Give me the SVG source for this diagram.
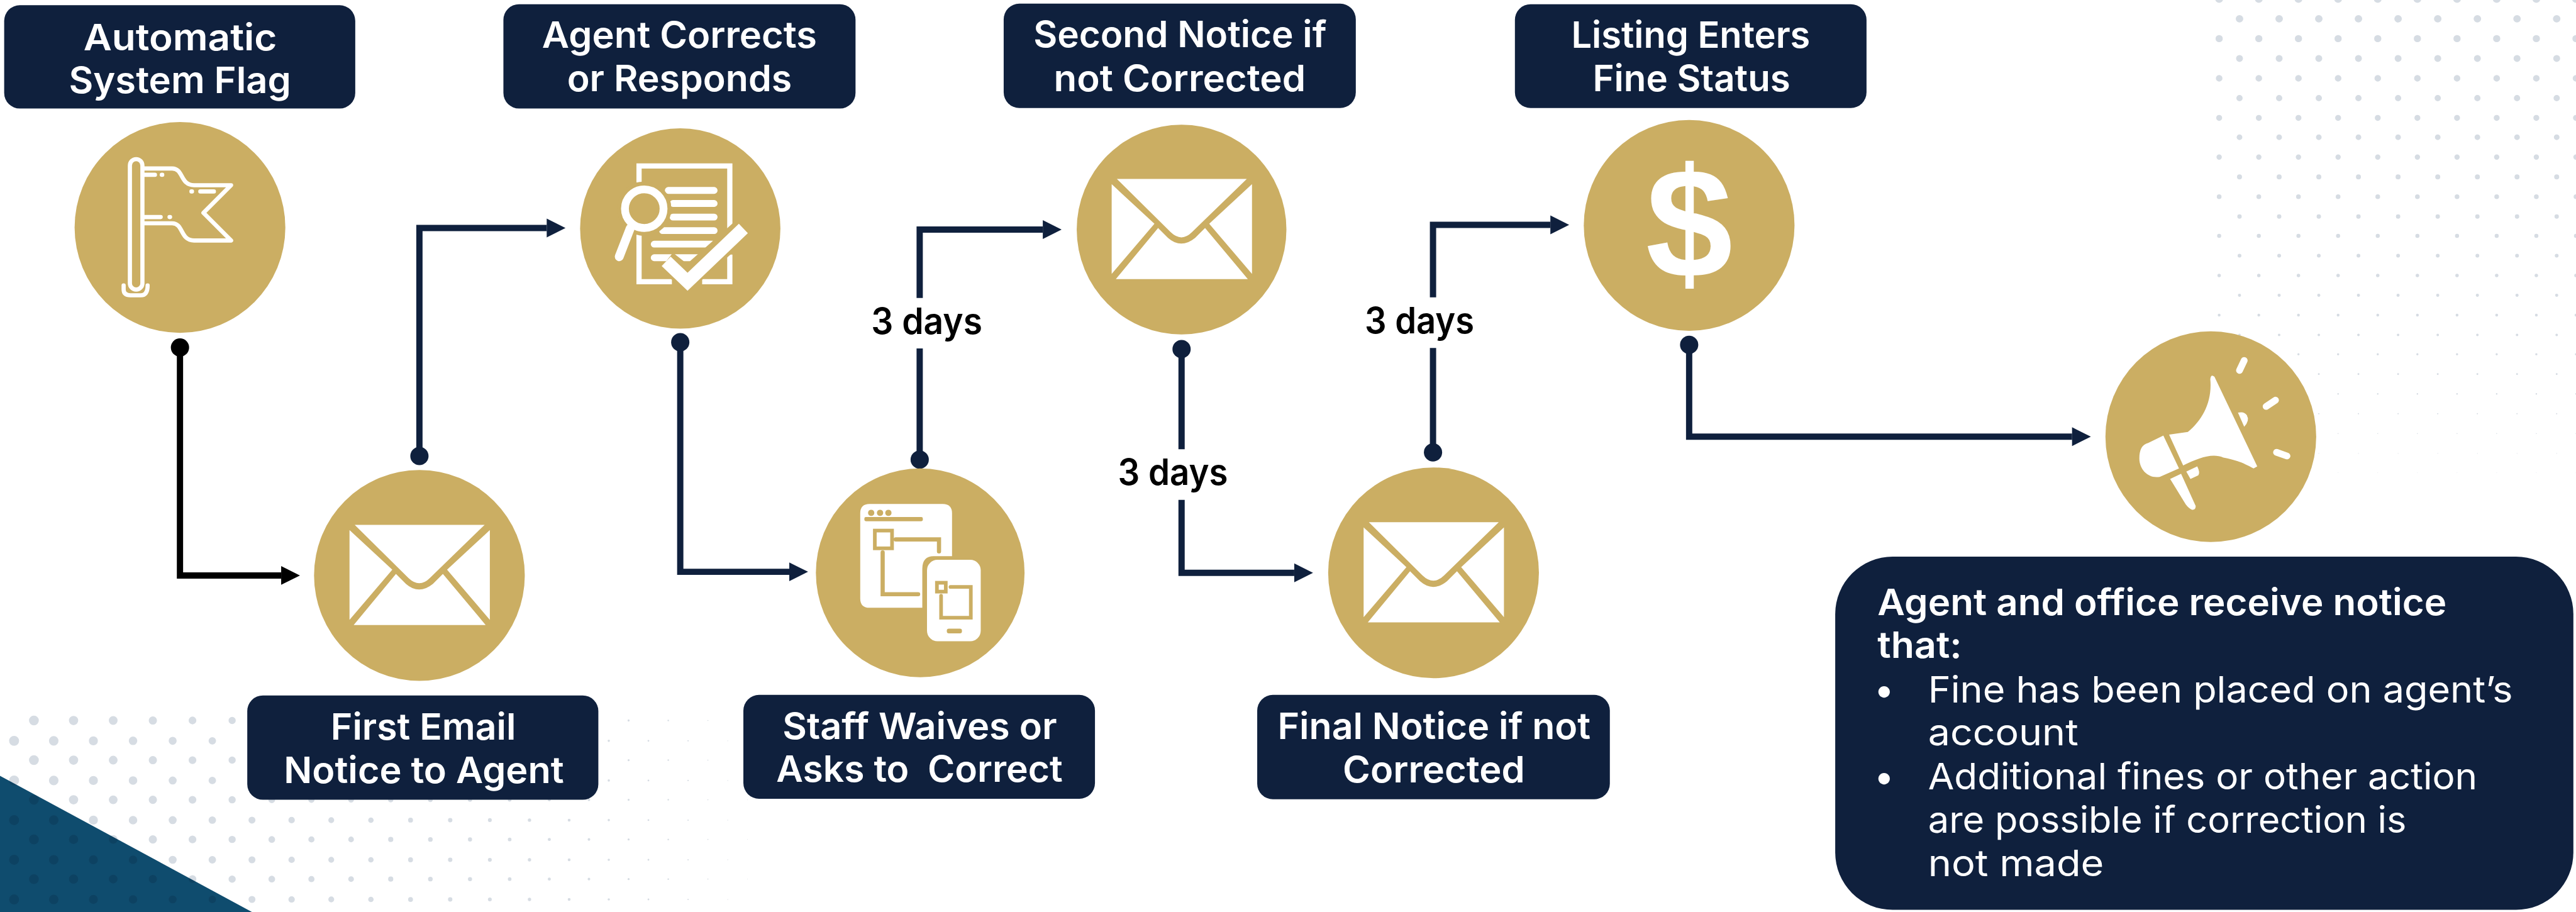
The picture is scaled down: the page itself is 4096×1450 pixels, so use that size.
<svg xmlns="http://www.w3.org/2000/svg" width="4096" height="1450" viewBox="0 0 4096 1450">
<style>
.bg{fill:#fff}
.d{fill:none;stroke:#D6DCE3;stroke-linecap:round;stroke-dasharray:0 76}
.g{fill:#CBAE63}
.box{fill:#0F203D}
.w{fill:#fff}
.gs{fill:none;stroke:#CBAE63}
.ws{fill:none;stroke:#fff}
text{font-family:"Inter","Noto Sans",sans-serif}
.t{fill:#fff;font-size:70px;font-weight:600}
.p{fill:#fff;font-size:70px;font-weight:400}
.l{fill:#000;font-size:70px;font-weight:600}
.c{fill:none;stroke:#0F203D;stroke-width:12;stroke-linejoin:miter}
.k{stroke:#000}
</style>
<defs>
<marker id="a" markerUnits="userSpaceOnUse" markerWidth="38" markerHeight="38" viewBox="0 0 38 38" refX="1" refY="19" orient="auto"><path d="M1 1 L37 19 L1 37 Z" fill="#0F203D" /></marker>
<marker id="ak" markerUnits="userSpaceOnUse" markerWidth="38" markerHeight="38" viewBox="0 0 38 38" refX="1" refY="19" orient="auto"><path d="M1 1 L37 19 L1 37 Z" fill="#000" /></marker>
<marker id="o" markerUnits="userSpaceOnUse" markerWidth="36" markerHeight="36" viewBox="0 0 36 36" refX="18" refY="18"><circle cx="18" cy="18" r="17.5" fill="#0F203D" /></marker>
<marker id="ok" markerUnits="userSpaceOnUse" markerWidth="36" markerHeight="36" viewBox="0 0 36 36" refX="18" refY="18"><circle cx="18" cy="18" r="17.5" fill="#000" /></marker>
<g id="env">
<path class="w" d="M-124 -97H125L20 5Q0 25-21 5Z" />
<path class="w" d="M-134 -87V85L-52 -11Z" />
<path class="w" d="M135 -87V85L53 -11Z" />
<path class="w" d="M-126 95H127L45 -3L26 16Q-1 38-26 16L-45 -3Z" />
</g>
</defs>
<rect class="bg" width="4096" height="1450" />
<g transform="scale(0.82948)">
<g id="dots-bottom-left">
<path class="d" stroke-width="18.8" d="M65 1381V1748" />
<path class="d" stroke-width="17.8" d="M141 1381V1748" />
<path class="d" stroke-width="16.8" d="M217 1381V1748" />
<path class="d" stroke-width="15.8" d="M293 1381V1748" />
<path class="d" stroke-width="14.8" d="M369 1381V1748" />
<path class="d" stroke-width="13.8" d="M445 1381V1748" />
<path class="d" stroke-width="12.8" d="M521 1381V1748" />
<path class="d" stroke-width="11.8" d="M597 1381V1748" />
<path class="d" stroke-width="10.9" d="M673 1381V1748" />
<path class="d" stroke-width="9.9" d="M749 1381V1748" />
<path class="d" stroke-width="8.9" d="M825 1381V1748" />
<path class="d" stroke-width="7.9" d="M901 1381V1748" />
<path class="d" stroke-width="6.9" d="M977 1381V1748" />
<path class="d" stroke-width="5.9" d="M1053 1381V1748" />
<path class="d" stroke-width="5" d="M1129 1381V1748" />
<path class="d" stroke-width="4" d="M1205 1381V1748" />
<path class="d" stroke-width="3" d="M1281 1381V1748" />
<path class="d" stroke-width="2" d="M1357 1381V1748" />
<path class="d" stroke-width="1" d="M1433 1381V1748" />
<path class="d" stroke-width="19.2" d="M27 1420V1748" />
<path class="d" stroke-width="18.3" d="M103 1420V1748" />
<path class="d" stroke-width="17.3" d="M179 1420V1748" />
<path class="d" stroke-width="16.3" d="M255 1420V1748" />
<path class="d" stroke-width="15.3" d="M331 1420V1748" />
<path class="d" stroke-width="14.3" d="M407 1420V1748" />
<path class="d" stroke-width="13.3" d="M483 1420V1748" />
<path class="d" stroke-width="12.3" d="M559 1420V1748" />
<path class="d" stroke-width="11.3" d="M635 1420V1748" />
<path class="d" stroke-width="10.4" d="M711 1420V1748" />
<path class="d" stroke-width="9.4" d="M787 1420V1748" />
<path class="d" stroke-width="8.4" d="M863 1420V1748" />
<path class="d" stroke-width="7.4" d="M939 1420V1748" />
<path class="d" stroke-width="6.4" d="M1015 1420V1748" />
<path class="d" stroke-width="5.4" d="M1091 1420V1748" />
<path class="d" stroke-width="4.4" d="M1167 1420V1748" />
<path class="d" stroke-width="3.4" d="M1243 1420V1748" />
<path class="d" stroke-width="2.5" d="M1319 1420V1748" />
<path class="d" stroke-width="1.5" d="M1395 1420V1748" />
</g>
<path id="corner-triangle" d="M0 1487L483 1748H0Z" fill="#0F4C6E" style="mix-blend-mode:multiply" />
<g id="dots-top-right">
<path class="d" stroke-width="15" d="M4254 -2H4950" />
<path class="d" stroke-width="14.4" d="M4293 36H4950" />
<path class="d" stroke-width="13.8" d="M4254 74H4950" />
<path class="d" stroke-width="13.2" d="M4293 112H4950" />
<path class="d" stroke-width="12.6" d="M4254 150H4950" />
<path class="d" stroke-width="12" d="M4293 188H4950" />
<path class="d" stroke-width="11.4" d="M4254 226H4950" />
<path class="d" stroke-width="10.8" d="M4293 263H4950" />
<path class="d" stroke-width="10.2" d="M4254 301H4950" />
<path class="d" stroke-width="9.6" d="M4293 339H4950" />
<path class="d" stroke-width="9" d="M4254 377H4950" />
<path class="d" stroke-width="8.4" d="M4293 415H4950" />
<path class="d" stroke-width="7.8" d="M4254 452H4950" />
<path class="d" stroke-width="7.2" d="M4293 490H4950" />
<path class="d" stroke-width="6.6" d="M4254 528H4950" />
<path class="d" stroke-width="6" d="M4293 566H4950" />
<path class="d" stroke-width="5.4" d="M4254 604H4950" />
<path class="d" stroke-width="4.8" d="M4293 642H4950" />
<path class="d" stroke-width="4.2" d="M4254 679H4950" />
<path class="d" stroke-width="3.6" d="M4293 717H4950" />
<path class="d" stroke-width="3" d="M4254 755H4950" />
<path class="d" stroke-width="2.4" d="M4293 793H4950" />
<path class="d" stroke-width="1.8" d="M4254 831H4950" />
<path class="d" stroke-width="1.4" d="M4293 869H4950" />
<path class="d" stroke-width="0.8" d="M4254 906H4950" />
</g>
<g id="connectors">
<path class="c k" d="M345 666V1103H539" marker-start="url(#ok)" marker-end="url(#ak)" />
<path class="c" d="M804 874V437H1048" marker-start="url(#o)" marker-end="url(#a)" />
<path class="c" d="M1304 656V1096H1513" marker-start="url(#o)" marker-end="url(#a)" />
<path class="c" d="M1763 881V668" marker-start="url(#o)" />
<path class="c" d="M1763 571V440H1999" marker-end="url(#a)" />
<path class="c" d="M2265 669V861" marker-start="url(#o)" />
<path class="c" d="M2265 958V1098H2481" marker-end="url(#a)" />
<path class="c" d="M2747 867V667" marker-start="url(#o)" />
<path class="c" d="M2747 570V431H2972" marker-end="url(#a)" />
<path class="c" d="M3238 661V837H3972" marker-start="url(#o)" marker-end="url(#a)" />
</g>
<g id="connector-labels">
<text class="l" x="1670" y="640" textLength="213" lengthAdjust="spacingAndGlyphs">3 days</text>
<text class="l" x="2143" y="929" textLength="211" lengthAdjust="spacingAndGlyphs">3 days</text>
<text class="l" x="2616" y="639" textLength="210" lengthAdjust="spacingAndGlyphs">3 days</text>
</g>
<g id="node-flag">
<circle class="g" cx="345" cy="436" r="202" />
<rect class="ws" stroke-width="8" x="249" y="305" width="24" height="250" rx="12" />
<path class="ws" stroke-width="8" stroke-linecap="round" d="M237 547V555Q237 566 250 566H270Q283 566 283 547" />
<path class="ws" stroke-width="8" stroke-linejoin="round" d="M276 323H330C352 323 345 355 372 355H443L390 408L443 461H372C345 461 352 428 330 428H276" />
<path class="ws" stroke-width="8" stroke-linecap="round" d="M276 335H297M310 335H311M384 367H410M367 367H368M276 416H308M325 416H326" />
<rect class="box" x="8" y="10" width="673" height="198" rx="30" />
<text class="t" x="160" y="96" textLength="371" lengthAdjust="spacingAndGlyphs">Automatic</text>
<text class="t" x="132" y="179" textLength="426" lengthAdjust="spacingAndGlyphs">System Flag</text>
</g>
<g id="node-first-email">
<circle class="g" cx="804" cy="1103" r="202" />
<use href="#env" x="804" y="1103" />
<rect class="box" x="474" y="1333" width="673" height="200" rx="30" />
<text class="t" x="634" y="1418" textLength="355" lengthAdjust="spacingAndGlyphs">First Email</text>
<text class="t" x="544" y="1501" textLength="537" lengthAdjust="spacingAndGlyphs">Notice to Agent</text>
</g>
<g id="node-agent-corrects">
<circle class="g" cx="1304" cy="438" r="192" />
<path class="ws" stroke-width="10" d="M1225 350V318H1399V438M1399 488V540H1346M1288 540H1225V449" />
<path class="ws" stroke-width="13" stroke-linecap="round" d="M1281 365H1369M1290 390H1369M1290 416H1369M1270 442H1369M1254 468H1366M1254 494H1339" />
<circle class="gs" stroke-width="28" cx="1235" cy="400" r="38" />
<circle class="ws" stroke-width="15" cx="1235" cy="400" r="37" />
<path class="ws" stroke-width="17" stroke-linecap="round" d="M1208 438L1187 492" />
<path class="gs" stroke-width="42" d="M1277 501L1318 533L1425 438" />
<path class="ws" stroke-width="25" d="M1277 501L1318 540L1425 438" />
<rect class="box" x="965" y="8" width="675" height="200" rx="30" />
<text class="t" x="1039" y="92" textLength="527" lengthAdjust="spacingAndGlyphs">Agent Corrects</text>
<text class="t" x="1087" y="175" textLength="431" lengthAdjust="spacingAndGlyphs">or Responds</text>
</g>
<g id="node-staff">
<circle class="g" cx="1764" cy="1098" r="200" />
<path class="w" d="M1667 966H1807Q1825 966 1825 984V1066H1790Q1768 1066 1768 1090V1165H1667Q1649 1165 1649 1147V984Q1649 966 1667 966Z" />
<rect class="w" x="1777" y="1073" width="103" height="156" rx="20" />
<circle class="g" cx="1670" cy="983" r="6" /><circle class="g" cx="1687" cy="983" r="6" /><circle class="g" cx="1703" cy="983" r="6" />
<rect class="g" x="1657" y="991" width="112" height="8" rx="3" />
<rect class="gs" stroke-width="7" x="1677" y="1017" width="33" height="34" />
<path class="gs" stroke-width="8" stroke-linecap="round" d="M1717 1034H1800V1057M1692 1059V1139H1760" />
<rect class="gs" stroke-width="7" x="1796" y="1117" width="17" height="17" />
<path class="gs" stroke-width="7" stroke-linecap="round" d="M1822 1125H1861V1184H1804V1142" />
<rect class="g" x="1815" y="1205" width="29" height="9" rx="4" />
<rect class="box" x="1425" y="1332" width="674" height="199" rx="30" />
<text class="t" x="1500" y="1416" textLength="526" lengthAdjust="spacingAndGlyphs">Staff Waives or</text>
<text class="t" x="1488" y="1499" textLength="549" lengthAdjust="spacingAndGlyphs" style="white-space:pre">Asks to  Correct</text>
</g>
<g id="node-second-notice">
<circle class="g" cx="2265" cy="440" r="201" />
<use href="#env" x="2265" y="440" />
<rect class="box" x="1924" y="7" width="675" height="200" rx="30" />
<text class="t" x="1981" y="91" textLength="562" lengthAdjust="spacingAndGlyphs">Second Notice if</text>
<text class="t" x="2020" y="175" textLength="483" lengthAdjust="spacingAndGlyphs">not Corrected</text>
</g>
<g id="node-final-notice">
<circle class="g" cx="2748" cy="1098" r="202" />
<use href="#env" x="2748" y="1098" />
<rect class="box" x="2410" y="1332" width="676" height="200" rx="30" />
<text class="t" x="2449" y="1417" textLength="600" lengthAdjust="spacingAndGlyphs">Final Notice if not</text>
<text class="t" x="2574" y="1500" textLength="349" lengthAdjust="spacingAndGlyphs">Corrected</text>
</g>
<g id="node-fine-status">
<circle class="g" cx="3238" cy="432" r="202" />
<text x="3238" y="532" text-anchor="middle" style="font-family:'Liberation Sans',sans-serif;font-size:300px;font-weight:700" fill="#fff">$</text>
<rect class="box" x="2904" y="8" width="674" height="199" rx="30" />
<text class="t" x="3012" y="92" textLength="458" lengthAdjust="spacingAndGlyphs">Listing Enters</text>
<text class="t" x="3053" y="175" textLength="379" lengthAdjust="spacingAndGlyphs">Fine Status</text>
</g>
<g id="node-notice">
<circle class="g" cx="4238" cy="837" r="202" />
<path class="w" d="M4237 727C4241 770 4222 805 4194 828L4158 833L4185 892C4215 878 4240 868 4262 877C4290 882 4305 890 4320 898L4327 894L4245 722Q4238 716 4237 727Z" />
<path class="w" d="M4147 835L4177 898L4140 914C4118 918 4101 900 4101 879C4101 862 4106 852 4118 849Z" />
<path class="w" d="M4160 918L4181 908L4209 970Q4209 978 4202 977Q4196 975 4190 967Z" />
<path class="w" d="M4191 904L4212 894Q4218 906 4214 911L4199 918Z" />
<path class="w" d="M4290 791Q4302 788 4307 796Q4313 806 4302 818Z" />
<path class="ws" stroke-width="13" stroke-linecap="round" d="M4302 691L4293 710M4362 767L4344 779M4364 867L4384 874" />
</g>
<g id="panel-notice">
<rect class="box" x="3518" y="1067" width="1415" height="677" rx="110" />
<text class="t" x="3599" y="1179" textLength="1091" lengthAdjust="spacingAndGlyphs">Agent and office receive notice</text>
<text class="t" x="3599" y="1261" textLength="162" lengthAdjust="spacingAndGlyphs">that:</text>
<text class="p" x="3592" y="1347">•</text>
<text class="p" x="3696" y="1347" textLength="1121" lengthAdjust="spacingAndGlyphs">Fine has been placed on agent’s</text>
<text class="p" x="3696" y="1429" textLength="288" lengthAdjust="spacingAndGlyphs">account</text>
<text class="p" x="3592" y="1513">•</text>
<text class="p" x="3696" y="1513" textLength="1053" lengthAdjust="spacingAndGlyphs">Additional fines or other action</text>
<text class="p" x="3696" y="1596" textLength="917" lengthAdjust="spacingAndGlyphs">are possible if correction is</text>
<text class="p" x="3696" y="1679" textLength="337" lengthAdjust="spacingAndGlyphs">not made</text>
</g>
</g>
</svg>
